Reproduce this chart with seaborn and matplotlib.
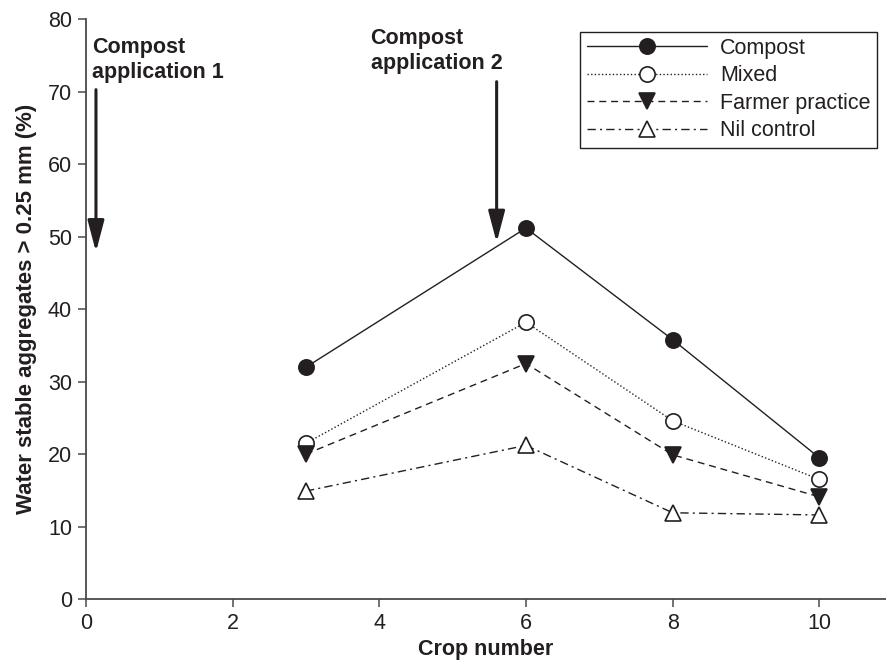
import numpy as np
import pandas as pd
import seaborn as sns
import matplotlib
matplotlib.use("Agg")
import matplotlib.pyplot as plt

# data
crops = [3, 6, 8, 10]
compost = [32.0, 51.2, 35.8, 19.5]
mixed = [21.5, 38.2, 24.6, 16.5]
farmer = [20.0, 32.5, 19.9, 14.1]
nil = [14.9, 21.2, 11.9, 11.6]
labels = ["Compost", "Mixed", "Farmer practice", "Nil control"]

sns.set_style("ticks")
plt.rcParams["font.family"] = ["Liberation Sans", "DejaVu Sans"]

ink = "#231f20"
axis_col = "#4a4a4a"
fs = 15.5

fig = plt.figure(figsize=(8.86, 6.63), dpi=100)
ax = fig.add_axes([86 / 886, 64 / 663, 800 / 886, 579.6 / 663])

styles = [
    dict(marker="o", markerfacecolor=ink, linestyle="-"),
    dict(marker="o", markerfacecolor="white", linestyle=(0, (1, 1.6))),
    dict(marker="v", markerfacecolor=ink, linestyle=(0, (5, 3.5))),
    dict(marker="^", markerfacecolor="white", linestyle=(0, (6, 3, 1.5, 3))),
]

for vals, lab, st in zip([compost, mixed, farmer, nil], labels, styles):
    df = pd.DataFrame({"crop": crops, "wsa": vals})
    sns.lineplot(data=df, x="crop", y="wsa", ax=ax, color=ink, linewidth=1.0,
                 markersize=11, markeredgecolor=ink, markeredgewidth=1.2,
                 label=lab, **st)

ax.set_xlim(0, 10.91)
ax.set_ylim(0, 80)
ax.set_xticks([0, 2, 4, 6, 8, 10])
ax.set_yticks(np.arange(0, 81, 10))
for s in ["top", "right"]:
    ax.spines[s].set_visible(False)
for s in ["left", "bottom"]:
    ax.spines[s].set_color(axis_col)
    ax.spines[s].set_linewidth(1.3)
ax.tick_params(axis="both", labelsize=fs, length=6, width=1.1, pad=4,
               color=axis_col, labelcolor=ink, direction="out")

ax.set_xlabel("Crop number", fontsize=fs, fontweight="bold", color=ink, labelpad=4)
ax.set_ylabel("Water stable aggregates > 0.25 mm (%)", fontsize=16,
              fontweight="bold", color=ink, labelpad=8)

# application arrows
arrow_kw = dict(arrowstyle="-|>,head_length=1.9,head_width=0.5", lw=2.2,
                color=ink, shrinkA=0, shrinkB=0, mutation_scale=10)
ax.annotate("", xy=(0.136, 47.9), xytext=(0.136, 70.3), arrowprops=arrow_kw)
ax.annotate("", xy=(5.6, 49.2), xytext=(5.6, 71.4), arrowprops=arrow_kw)
ax.text(0.08, 77.6, "Compost\napplication 1", fontsize=fs, fontweight="bold",
        color=ink, va="top", ha="left", linespacing=1.25)
ax.text(3.88, 78.8, "Compost\napplication 2", fontsize=fs, fontweight="bold",
        color=ink, va="top", ha="left", linespacing=1.25)

leg = ax.legend(loc="upper right", bbox_to_anchor=(0.989, 0.979),
                borderaxespad=0, fontsize=fs, handlelength=5.6,
                handletextpad=0.6, labelspacing=0.3, borderpad=0.3,
                fancybox=False, framealpha=1, edgecolor=ink)
leg.get_frame().set_linewidth(1.0)
for t in leg.get_texts():
    t.set_color(ink)

fig.savefig("out.png", dpi=100)
